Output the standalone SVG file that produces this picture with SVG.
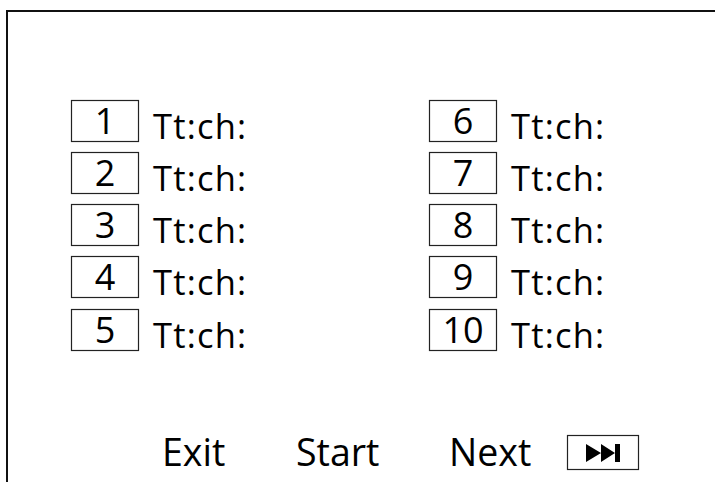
<svg xmlns="http://www.w3.org/2000/svg" width="715" height="482" viewBox="0 0 715 482">
<style>
.box{fill:#fff;stroke:#222;stroke-width:1.2}
.num{font-family:"Open Sans",sans-serif;font-size:36px;fill:#000;text-anchor:middle}
.lbl{font-family:"Open Sans",sans-serif;font-size:34.5px;fill:#000;letter-spacing:1.2px}
.btn{font-family:"Open Sans",sans-serif;font-size:37.5px;fill:#000}
</style>
<rect width="715" height="482" fill="#fff"/>
<g id="frame"><path d="M7,482 V11 H715" fill="none" stroke="#111" stroke-width="2"/></g>
<g id="channels">
<g id="ch1"><rect class="box" x="71.5" y="100.5" width="67" height="41"/><text class="num" x="105" y="134">1</text><text class="lbl" x="153" y="139">Tt:ch:</text></g>
<g id="ch2"><rect class="box" x="71.5" y="152.5" width="67" height="41"/><text class="num" x="105" y="186">2</text><text class="lbl" x="153" y="191">Tt:ch:</text></g>
<g id="ch3"><rect class="box" x="71.5" y="204.5" width="67" height="41"/><text class="num" x="105" y="238">3</text><text class="lbl" x="153" y="243">Tt:ch:</text></g>
<g id="ch4"><rect class="box" x="71.5" y="256.5" width="67" height="41"/><text class="num" x="105" y="290">4</text><text class="lbl" x="153" y="295">Tt:ch:</text></g>
<g id="ch5"><rect class="box" x="71.5" y="309.5" width="67" height="41"/><text class="num" x="105" y="343">5</text><text class="lbl" x="153" y="348">Tt:ch:</text></g>
<g id="ch6"><rect class="box" x="429.5" y="100.5" width="67" height="41"/><text class="num" x="463" y="134">6</text><text class="lbl" x="511" y="139">Tt:ch:</text></g>
<g id="ch7"><rect class="box" x="429.5" y="152.5" width="67" height="41"/><text class="num" x="463" y="186">7</text><text class="lbl" x="511" y="191">Tt:ch:</text></g>
<g id="ch8"><rect class="box" x="429.5" y="204.5" width="67" height="41"/><text class="num" x="463" y="238">8</text><text class="lbl" x="511" y="243">Tt:ch:</text></g>
<g id="ch9"><rect class="box" x="429.5" y="256.5" width="67" height="41"/><text class="num" x="463" y="290">9</text><text class="lbl" x="511" y="295">Tt:ch:</text></g>
<g id="ch10"><rect class="box" x="429.5" y="309.5" width="67" height="41"/><text class="num" x="463" y="343">10</text><text class="lbl" x="511" y="348">Tt:ch:</text></g>
</g>
<g id="buttons">
<g id="exit"><text class="btn" x="162" y="466">Exit</text></g>
<g id="start"><text class="btn" x="296" y="466">Start</text></g>
<g id="next"><text class="btn" x="449" y="466">Next</text></g>
<g id="skip"><rect class="box" x="567.5" y="435.5" width="71" height="34"/><path d="M586,444 L601,453 L586,462 Z M601,444 L615,453 L601,462 Z M615,444 H620 V462 H615 Z" fill="#000"/></g>
</g>
</svg>
